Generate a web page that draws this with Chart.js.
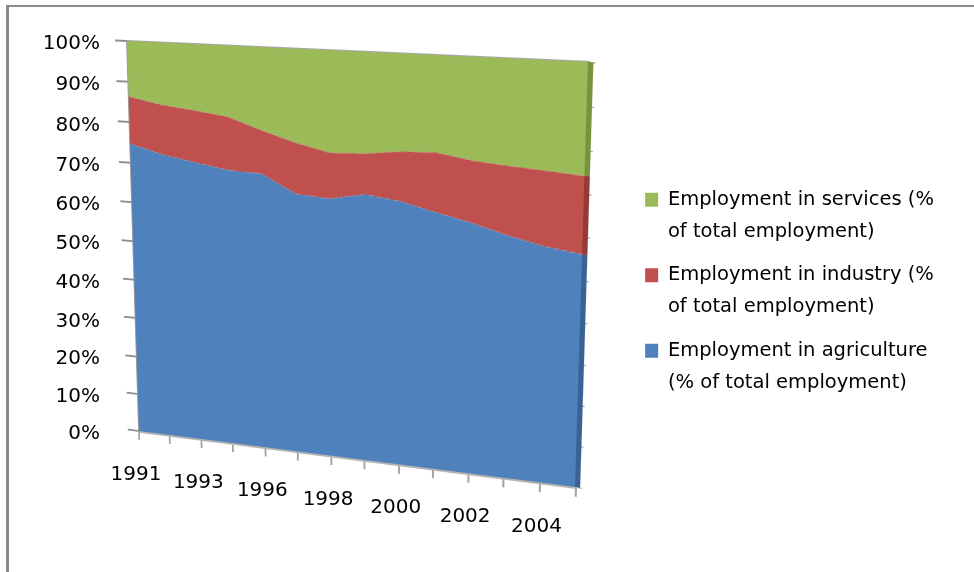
<!DOCTYPE html>
<html>
<head>
<meta charset="utf-8">
<title>Employment by sector</title>
<script src="https://cdn.jsdelivr.net/npm/chart.js@4/dist/chart.umd.min.js"></script>
<style>
  html, body { margin: 0; padding: 0; background: #fff; }
  #stage { position: relative; width: 974px; height: 572px; overflow: hidden; background: #fff; }
  #edge {
    position: absolute; left: 6px; top: 5px; width: 1000px; height: 600px;
    border-left: 3px solid #8a8a8a; border-top: 2px solid #8a8a8a;
  }
  #frame { position: absolute; left: 0; top: 0; }
  #plot { position: absolute; left: 0; top: 0; transform-origin: 0 0; }
</style>
</head>
<body>
<div id="stage">
  <div id="edge"></div>
  <canvas id="frame" width="974" height="572"></canvas>
  <canvas id="plot" width="520" height="470"></canvas>
</div>
<script>
const years = ["1991", "1992", "1993", "1995", "1996", "1997", "1998", "1999", "2000", "2001", "2002", "2003", "2004", "2005"];

// shares of total employment, %
const agriculture = [74.7, 72.5, 71.1, 69.8, 69.5, 65.2, 64.6, 66.3, 65.3, 63.3, 61.4, 59.1, 57.2, 56.1];
const industry = [11.7, 12.3, 12.8, 13.1, 10.6, 12.4, 11.1, 9.8, 11.8, 14.1, 14.7, 16.3, 17.7, 18.2];
const services = [13.6, 15.2, 16.1, 17.1, 19.9, 22.4, 24.3, 23.9, 22.9, 22.6, 23.9, 24.6, 25.1, 25.7];

const seriesNames = [
  ["Employment in agriculture", "(% of total employment)"],
  ["Employment in industry (%", "of total employment)"],
  ["Employment in services (%", "of total employment)"]
];
const seriesColors = ["#4f81bd", "#c0504d", "#9bbb59"];
const sideColors = ["#3a6394", "#943a37", "#77933c"];
const percentTicks = { min: 0, max: 100, step: 10 };

// where the four corners of the plotting wall land on the page
const wallCorners = [[127, 41], [589, 62], [576, 487], [139, 431]];

Chart.defaults.font.family = '"DejaVu Sans", sans-serif';
Chart.defaults.color = "#000";

let homography = null;

function solveHomography(src, dst) {
  const A = [];
  const B = [];
  for (let i = 0; i < 4; i++) {
    const [x, y] = src[i];
    const [u, v] = dst[i];
    A.push([x, y, 1, 0, 0, 0, -x * u, -y * u]);
    B.push(u);
    A.push([0, 0, 0, x, y, 1, -x * v, -y * v]);
    B.push(v);
  }
  const n = 8;
  for (let c = 0; c < n; c++) {
    let p = c;
    for (let r = c + 1; r < n; r++) {
      if (Math.abs(A[r][c]) > Math.abs(A[p][c])) p = r;
    }
    [A[c], A[p]] = [A[p], A[c]];
    [B[c], B[p]] = [B[p], B[c]];
    for (let r = c + 1; r < n; r++) {
      const f = A[r][c] / A[c][c];
      for (let k = c; k < n; k++) A[r][k] -= f * A[c][k];
      B[r] -= f * B[c];
    }
  }
  const h = new Array(n).fill(0);
  for (let r = n - 1; r >= 0; r--) {
    let s = B[r];
    for (let k = r + 1; k < n; k++) s -= A[r][k] * h[k];
    h[r] = s / A[r][r];
  }
  return h;
}

function project(h, x, y) {
  const w = h[6] * x + h[7] * y + 1;
  return [(h[0] * x + h[1] * y + h[2]) / w, (h[3] * x + h[4] * y + h[5]) / w];
}

// tilt the whole plot canvas so its chart area sits on the wall
const perspective = {
  id: "perspective",
  afterLayout(chart) {
    const a = chart.chartArea;
    homography = solveHomography(
      [[a.left, a.top], [a.right, a.top], [a.right, a.bottom], [a.left, a.bottom]],
      wallCorners
    );
    const m = homography;
    chart.canvas.style.transform =
      `matrix3d(${m[0]},${m[3]},0,${m[6]},${m[1]},${m[4]},0,${m[7]},0,0,1,0,${m[2]},${m[5]},0,1)`;
  }
};

// thin darker strip on the right end of each band
const sideFaces = {
  id: "sideFaces",
  afterDatasetsDraw(chart) {
    const { ctx, chartArea } = chart;
    let base = chartArea.bottom;
    chart.data.datasets.forEach((ds, i) => {
      const pts = chart.getDatasetMeta(i).data;
      const top = pts[pts.length - 1].y;
      ctx.fillStyle = sideColors[i];
      ctx.fillRect(chartArea.right - 1, top, 5, base - top);
      base = top;
    });
  }
};

const plot = new Chart(document.getElementById("plot"), {
  type: "line",
  data: {
    labels: years,
    datasets: [
      { label: seriesNames[0].join(" "), data: agriculture, backgroundColor: seriesColors[0], fill: "origin" },
      { label: seriesNames[1].join(" "), data: industry, backgroundColor: seriesColors[1], fill: "-1" },
      { label: seriesNames[2].join(" "), data: services, backgroundColor: seriesColors[2], fill: "-1" }
    ]
  },
  options: {
    responsive: false,
    animation: false,
    events: [],
    elements: {
      line: { borderWidth: 0, tension: 0 },
      point: { radius: 0 }
    },
    layout: { padding: { left: 20, top: 20, right: 20, bottom: 20 } },
    scales: {
      x: {
        ticks: { display: false },
        grid: { drawOnChartArea: false, tickLength: 10, color: "#a3a3a3", lineWidth: 2 },
        border: { color: "#b3b3b3", width: 3 }
      },
      xTop: {
        type: "category",
        position: "top",
        labels: years,
        ticks: { display: false },
        grid: { display: false },
        border: { color: "#a6a6a6", width: 3 }
      },
      y: {
        stacked: true,
        min: percentTicks.min,
        max: percentTicks.max,
        ticks: { display: false, stepSize: percentTicks.step },
        grid: { drawOnChartArea: false, tickLength: 13, color: "#8f8f8f", lineWidth: 2 },
        border: { color: "#9c9c9c", width: 2 }
      },
      yRight: {
        position: "right",
        min: percentTicks.min,
        max: percentTicks.max,
        ticks: { display: false, stepSize: percentTicks.step },
        grid: { drawOnChartArea: false, tickLength: 6, color: "#a0a0a0" },
        border: { display: false }
      }
    },
    plugins: {
      legend: { display: false },
      tooltip: { enabled: false }
    }
  },
  plugins: [perspective, sideFaces]
});

// axis labels stay upright; their positions follow the tilted wall
const axisLabels = {
  id: "axisLabels",
  afterDraw(chart) {
    const xs = plot.scales.x;
    const ys = plot.scales.y;
    const area = plot.chartArea;
    const ctx = chart.ctx;
    ctx.save();
    ctx.font = '20px "DejaVu Sans"';
    ctx.fillStyle = "#000";
    ctx.textBaseline = "middle";

    ctx.textAlign = "right";
    ys.ticks.forEach((tick) => {
      const [, y] = project(homography, area.left, ys.getPixelForValue(tick.value));
      ctx.fillText(tick.value + "%", 100, y + 3);
    });

    ctx.textAlign = "center";
    years.forEach((year, i) => {
      if (i % 2) return;
      const [x, y] = project(homography, xs.getPixelForValue(i), area.bottom);
      ctx.fillText(year, x - 3, y + 44);
    });
    ctx.restore();
  }
};

new Chart(document.getElementById("frame"), {
  type: "line",
  data: {
    labels: years,
    datasets: [agriculture, industry, services].map((values, i) => ({
      label: seriesNames[i].join(" "),
      data: values,
      showLine: false,
      pointRadius: 0,
      borderWidth: 0,
      backgroundColor: seriesColors[i],
      borderColor: seriesColors[i]
    }))
  },
  options: {
    responsive: false,
    animation: false,
    events: [],
    layout: { padding: { left: 0, top: 45, right: 30, bottom: 141 } },
    scales: {
      x: { display: false },
      y: { display: false, min: percentTicks.min, max: percentTicks.max }
    },
    plugins: {
      tooltip: { enabled: false },
      legend: {
        position: "right",
        align: "start",
        reverse: true,
        maxWidth: 400,
        title: { display: true, text: "", padding: { top: 119, bottom: 0 } },
        labels: {
          boxWidth: 13,
          boxHeight: 14,
          padding: 11.5,
          color: "#000",
          font: { size: 19.5, lineHeight: 32 / 19.5 },
          generateLabels(chart) {
            return Chart.defaults.plugins.legend.labels.generateLabels(chart).map((item) => ({
              ...item,
              text: seriesNames[item.datasetIndex]
            }));
          }
        }
      }
    }
  },
  plugins: [axisLabels]
});
</script>
</body>
</html>
